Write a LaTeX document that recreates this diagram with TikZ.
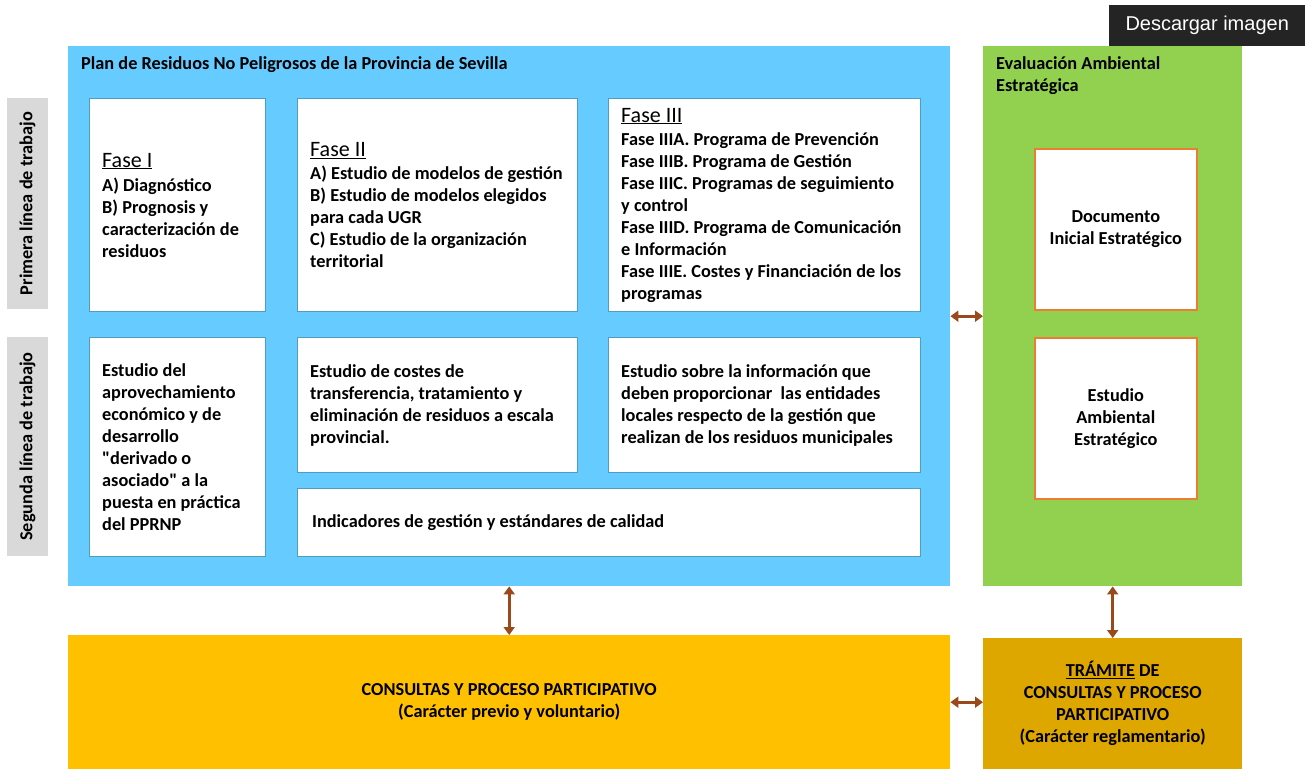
\documentclass[tikz,border=0pt]{standalone}
\usepackage{fontspec}
\setmainfont{Carlito}
\newfontfamily\buttonfont{Liberation Sans}
\usetikzlibrary{positioning}
\usetikzlibrary{arrows.meta}
\definecolor{planblue}{HTML}{66CCFF}
\definecolor{eaegreen}{HTML}{92D050}
\definecolor{consultyellow}{HTML}{FFC000}
\definecolor{tramitegold}{HTML}{DDA700}
\definecolor{linkbrown}{HTML}{9A4A1A}
\definecolor{boxedge}{HTML}{4F9DBF}
\definecolor{docedge}{HTML}{ED7D31}
\definecolor{labelgray}{HTML}{D9D9D9}
\newcommand{\boxfont}{\fontsize{18.3}{22}\selectfont\bfseries}
\newcommand{\fase}[1]{\underline{\fontsize{22}{24}\selectfont\mdseries #1}}

\tikzset{
  panel/.style={anchor=north west, inner sep=0pt},
  wbox/.style={draw=boxedge, fill=white, line width=1.2pt, anchor=north west, inner sep=0pt},
  obox/.style={draw=docedge, fill=white, line width=1.6pt, anchor=north west, inner sep=0pt, align=center, font=\boxfont},
  btext/.style={align=left, inner sep=0pt, font=\boxfont},
  linelabel/.style={fill=labelgray, rotate=90, inner sep=0pt, font=\boxfont},
  link/.style={{Triangle[width=11pt,length=8pt]}-{Triangle[width=11pt,length=8pt]}, line width=2.6pt, draw=linkbrown},
}

\begin{document}
\begin{tikzpicture}[x=1pt,y=-1pt]
    \useasboundingbox (0,0) rectangle (1309,770);

    % panels
    \node[panel, fill=planblue, minimum width=882pt, minimum height=540pt] (plan) at (68,46) {};
    \node[btext, anchor=west] (plantitle) at (81,65) {Plan de Residuos No Peligrosos de la Provincia de Sevilla};
    \node[panel, fill=eaegreen, minimum width=259pt, minimum height=540pt] (eae) at (983,46) {};
    \node[btext, anchor=west] (eaetitle) at (996,76) {Evaluación Ambiental\\Estratégica};

    \node[linelabel, minimum width=211pt, minimum height=41pt] (primera) at (27.5,203.5) {Primera línea de trabajo};
    \node[linelabel, minimum width=219pt, minimum height=41pt] (segunda) at (27.5,446.5) {Segunda línea de trabajo};

    % primera linea
    \node[wbox, minimum width=176pt, minimum height=213pt] (fase1) at (89,98) {};
    \node[btext, right=13pt of fase1.west] (fase1txt) {\fase{Fase I}\\[2pt]
        A) Diagnóstico\\ B) Prognosis y\\ caracterización de\\ residuos};
    \node[wbox, minimum width=280pt, minimum height=213pt] (fase2) at (297,98) {};
    \node[btext, right=13pt of fase2.west] (fase2txt) {\fase{Fase II}\\[1pt]
        A) Estudio de modelos de gestión\\ B) Estudio de modelos elegidos\\ para cada UGR\\
        C) Estudio de la organización\\ territorial};
    \node[wbox, minimum width=312pt, minimum height=213pt] (fase3) at (608,98) {};
    \node[btext, right=13pt of fase3.west] (fase3txt) {\fase{Fase III}\\[1pt]
        Fase IIIA. Programa de Prevención\\ Fase IIIB. Programa de Gestión\\
        Fase IIIC. Programas de seguimiento\\ y control\\
        Fase IIID. Programa de Comunicación\\ e Información\\
        Fase IIIE. Costes y Financiación de los\\ programas};

    % segunda linea
    \node[wbox, minimum width=176pt, minimum height=219pt] (aprov) at (89,337) {};
    \node[btext, right=13pt of aprov.west] (aprovtxt) {Estudio del\\ aprovechamiento\\ económico y de\\
        desarrollo\\ \textquotedbl derivado o\\ asociado\textquotedbl{} a la\\ puesta en práctica\\ del PPRNP};
    \node[wbox, minimum width=280pt, minimum height=135pt] (costes) at (297,337) {};
    \node[btext, right=13pt of costes.west] (costestxt) {Estudio de costes de\\
        transferencia, tratamiento y\\ eliminación de residuos a escala\\ provincial.};
    \node[wbox, minimum width=312pt, minimum height=135pt] (info) at (608,337) {};
    \node[btext, right=13pt of info.west] (infotxt) {Estudio sobre la información que\\
        deben proporcionar~ las entidades\\ locales respecto de la gestión que\\
        realizan de los residuos municipales};
    \node[wbox, minimum width=623pt, minimum height=68pt] (indic) at (297,488) {};
    \node[btext, right=15pt of indic.west] (indictxt) {Indicadores de gestión y estándares de calidad};

    % EAE
    \node[obox, minimum width=162pt, minimum height=161pt] (doc) at (1034,148) {Documento\\Inicial Estratégico};
    \node[obox, minimum width=162pt, minimum height=161pt] (esa) at (1034,337) {Estudio\\Ambiental\\Estratégico};

    % consultas
    \node[panel, fill=consultyellow, minimum width=882pt, minimum height=134pt, align=center, font=\boxfont] (consult) at (68,635)
        {CONSULTAS Y PROCESO PARTICIPATIVO\\(Carácter previo y voluntario)};
    \node[panel, fill=tramitegold, minimum width=259pt, minimum height=131pt, align=center, font=\boxfont] (tramite) at (983,638)
        {\underline{TRÁMITE} DE\\CONSULTAS Y PROCESO\\PARTICIPATIVO\\(Carácter reglamentario)};

    \node[panel, fill=black!86, text=white, minimum width=196pt, minimum height=41pt, font=\buttonfont\fontsize{20}{22}\selectfont] (descarga) at (1109,5) {Descargar imagen};

    \draw[link] (plan.east) -- (eae.west);
    \draw[link] (plan.south) -- (consult.north);
    \draw[link] (eae.south) -- (tramite.north);
    \draw[link] (consult.east) -- (consult.east -| tramite.west);
\end{tikzpicture}
\end{document}
